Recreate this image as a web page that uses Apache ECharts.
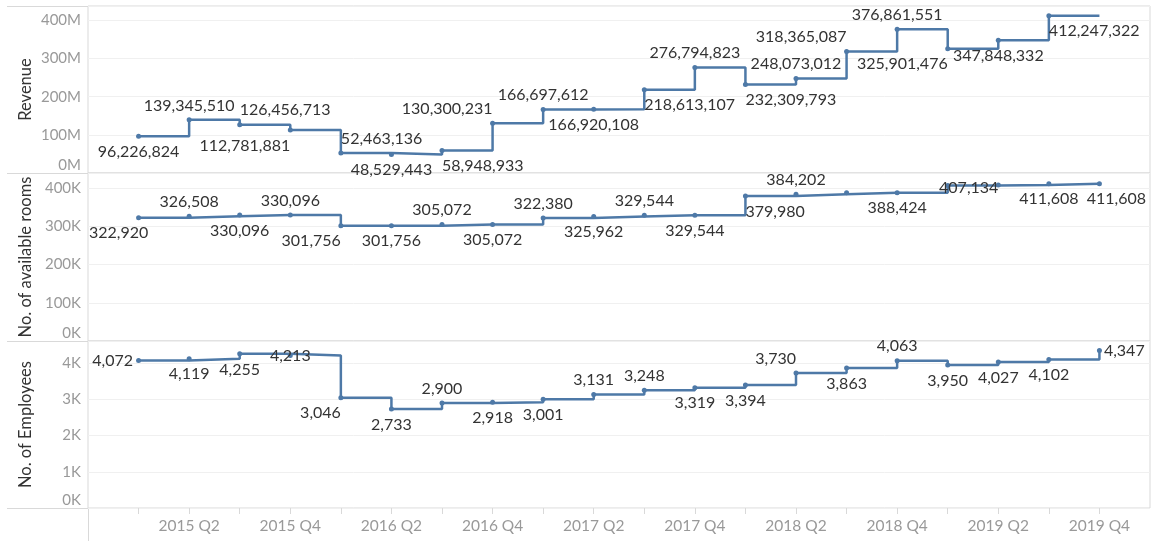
<!DOCTYPE html>
<html>
<head>
<meta charset="utf-8">
<script src="https://cdn.jsdelivr.net/npm/echarts@6/dist/echarts.min.js"></script>
<style>
  html, body { margin: 0; padding: 0; background: #fff; }
  #chart { width: 1155px; height: 541px; }
</style>
</head>
<body>
<div id="chart"></div>
<script>
  // quarters 2015 Q1 .. 2019 Q4
  var quarters = ['2015 Q1', '2015 Q2', '2015 Q3', '2015 Q4',
    '2016 Q1', '2016 Q2', '2016 Q3', '2016 Q4',
    '2017 Q1', '2017 Q2', '2017 Q3', '2017 Q4',
    '2018 Q1', '2018 Q2', '2018 Q3', '2018 Q4',
    '2019 Q1', '2019 Q2', '2019 Q3', '2019 Q4']

  var revenue = [96226824, 139345510, 126456713, 112781881,
    52463136, 48529443, 58948933, 130300231,
    166697612, 166920108, 218613107, 276794823,
    232309793, 248073012, 318365087, 376861551,
    325901476, 347848332, 412247322, 412247322]

  var rooms = [322920, 326508, 330096, 330096,
    301756, 301756, 305072, 305072,
    322380, 325962, 329544, 329544,
    379980, 384202, 388000, 388424,
    407134, 408300, 411608, 411608]

  var employees = [4072, 4119, 4255, 4213,
    3046, 2733, 2900, 2918,
    3001, 3131, 3248, 3319,
    3394, 3730, 3863, 4063,
    3950, 4027, 4102, 4347]

  var revenueTicks = ['0M', '100M', '200M', '300M', '400M']
  var roomsTicks = ['0K', '100K', '200K', '300K', '400K']
  var employeesTicks = ['0K', '1K', '2K', '3K', '4K']

  var FONT = 'Lato'
  var LINE = '#4e79a7'
  var BORDER = '#d9d9d9'

  // label placement per point: t/b = above/below, c/l/r = centred, starts at, ends at
  // optional [code, dx, dy] to nudge
  var revPos = ['bc', 'tc', 'tl', 'br', 'tl', 'bc', 'bl', 'tr', 'tc', 'bc',
    'bl', 'tc', 'bl', 'tc', 'tr', 'tc', 'br', 'bc', 'bl', 'none']
  var roomPos = [['bc', -20, 0], 'tc', 'bc', 'tc', 'br', 'bc', 'tc', 'bc', 'tc', 'bc',
    'tc', 'bc', 'bl', 'tc', 'none', 'bc', ['in', 21, 2], 'none', 'bc', ['bc', 17, 0]]
  var empPos = ['l', 'bc', 'bc', 'in', 'br', 'bc', 'tc', 'bc', 'bc', 'tc',
    'tc', 'bc', 'bc', 'tr', 'bc', 'tc', 'bc', 'bc', 'bc', 'r']

  function labelFor (spec) {
    var code = typeof spec === 'string' ? spec : spec[0]
    if (code === 'none') return { show: false }
    var base = {
      show: true,
      fontFamily: FONT,
      fontSize: 16,
      color: '#333',
      formatter: function (p) { return p.value.toLocaleString('en-US') }
    }
    if (typeof spec !== 'string') base.offset = [spec[1], spec[2]]
    if (code === 'l') return Object.assign(base, { position: 'left', distance: 3 })
    if (code === 'r') return Object.assign(base, { position: 'right', distance: 2 })
    if (code === 'in') return Object.assign(base, { position: 'inside' })
    var v = code.charAt(0)
    var h = code.charAt(1)
    var lab = Object.assign(base, {
      position: v === 't' ? 'top' : 'bottom',
      distance: v === 't' ? 4 : 5
    })
    if (h === 'l') lab.align = 'left'
    if (h === 'r') lab.align = 'right'
    return lab
  }

  function buildData (values, pos) {
    // leading null = empty padding slot before 2015 Q1
    var out = [null]
    values.forEach(function (v, i) {
      var item = { value: v, label: labelFor(pos[i]) }
      if (pos[i] === 'none' && i === values.length - 1) item.symbol = 'none'
      out.push(item)
    })
    return out
  }

  // one empty slot each side gives the padding seen in the picture
  var cats = [''].concat(quarters, [''])

  var grids = [
    { left: 88, right: 5, top: 6, height: 167 },
    { left: 88, right: 5, top: 173, height: 168 },
    { left: 88, right: 5, top: 341, height: 167 }
  ]
  grids.forEach(function (g) {
    g.show = true
    g.borderColor = BORDER
    g.borderWidth = 1
  })

  function yAxis (idx, name, max, interval, ticks) {
    return {
      type: 'value',
      gridIndex: idx,
      min: 0,
      max: max,
      interval: interval,
      name: name,
      nameLocation: 'middle',
      nameGap: 54,
      nameMoveOverlap: false,
      nameTextStyle: { fontFamily: FONT, fontSize: 16.5, color: '#333' },
      axisLine: { show: false },
      axisTick: { show: false },
      axisLabel: {
        fontFamily: FONT,
        fontSize: 15,
        color: '#999',
        margin: 7,
        showMaxLabel: false,
        verticalAlignMinLabel: 'bottom',
        formatter: function (v) {
          var i = Math.round(v / interval)
          return Math.abs(v - i * interval) < 1e-6 && ticks[i] ? ticks[i] : ''
        }
      },
      splitLine: { lineStyle: { color: '#f0f0f0' } }
    }
  }

  function xAxis (idx, show) {
    return {
      type: 'category',
      gridIndex: idx,
      data: cats,
      boundaryGap: false,
      show: show,
      axisLine: { show: false },
      axisTick: {
        show: true,
        length: 6,
        interval: function (i) { return i > 0 && i < cats.length - 1 },
        lineStyle: { color: BORDER }
      },
      axisLabel: {
        fontFamily: FONT,
        fontSize: 15.5,
        color: '#999',
        margin: 10,
        interval: function (i, v) { return /Q[24]$/.test(v) }
      },
      splitLine: { show: false }
    }
  }

  function series (idx, values, pos) {
    return {
      type: 'line',
      xAxisIndex: idx,
      yAxisIndex: idx,
      step: 'end',
      data: buildData(values, pos),
      symbol: 'circle',
      symbolSize: 5,
      lineStyle: { color: LINE, width: 2.5 },
      itemStyle: { color: LINE },
      connectNulls: false,
      animation: false
    }
  }

  function hline (y, x1, x2) {
    return { type: 'line', shape: { x1: x1, y1: y, x2: x2, y2: y }, style: { stroke: BORDER, lineWidth: 1 }, silent: true }
  }

  var chart = echarts.init(document.getElementById('chart'))
  chart.setOption({
    backgroundColor: '#fff',
    animation: false,
    grid: grids,
    xAxis: [xAxis(0, false), xAxis(1, false), xAxis(2, true)],
    yAxis: [
      yAxis(0, 'Revenue', 438e6, 100e6, revenueTicks),
      yAxis(1, 'No. of available rooms', 440e3, 100e3, roomsTicks),
      yAxis(2, 'No. of Employees', 4610, 1000, employeesTicks)
    ],
    series: [
      series(0, revenue, revPos),
      series(1, rooms, roomPos),
      series(2, employees, empPos)
    ],
    graphic: [
      hline(6.5, 7, 88),
      hline(173.5, 7, 88),
      hline(341.5, 7, 88),
      hline(508.5, 7, 88),
      { type: 'line', shape: { x1: 88.5, y1: 508, x2: 88.5, y2: 541 }, style: { stroke: BORDER, lineWidth: 1 }, silent: true }
    ]
  })
</script>
</body>
</html>
